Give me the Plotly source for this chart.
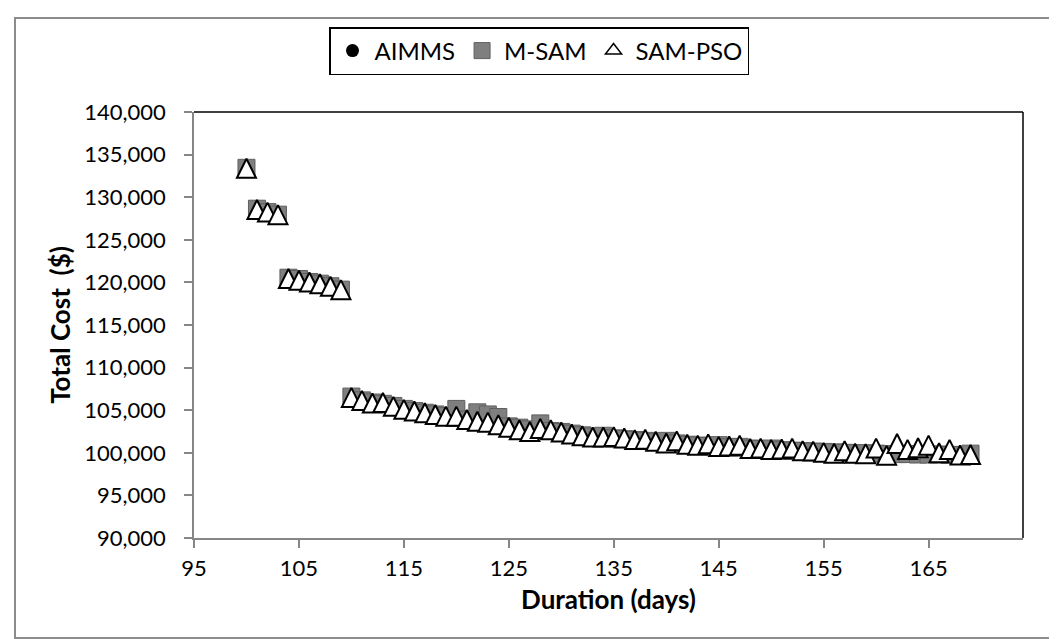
import plotly.graph_objects as go

days = list(range(100, 170))

aimms = [133400, 128500, 128200, 127900, 120400, 120200, 120000, 119800, 119500, 119100,
         106400, 106100, 105850, 105700, 105400, 105050, 104850, 104650, 104450, 104250,
         104050, 103850, 103650, 103450, 103250, 103050, 102900, 102700, 102600, 102500,
         102400, 102200, 102000, 101850, 101750, 101650, 101550, 101450, 101350, 101250,
         101150, 101050, 100900, 100800, 100750, 100650, 100600, 100500, 100450, 100400,
         100300, 100250, 100200, 100150, 100100, 100050, 100000, 99950, 99900, 99900,
         99850, 99800, 99800, 99800, 99750, 99750, 99750, 99700, 99700, 99700]

m_sam = [133450, 128650, 128250, 127950, 120550, 120400, 120050, 119850, 119550, 119150,
         106600, 106150, 105900, 105750, 105500, 105150, 104900, 104700, 104500, 104300,
         105150, 103900, 104750, 104500, 104200, 103100, 102950, 102750, 103450, 102550,
         102450, 102250, 102050, 101900, 102000, 101700, 101600, 101500, 101400, 101300,
         101400, 101100, 100950, 100850, 100800, 100900, 100650, 100700, 100500, 100450,
         100500, 100300, 100250, 100200, 100150, 100100, 100050, 100000, 99950, 99950,
         99900, 99850, 99850, 99850, 99800, 99800, 99800, 99750, 99750, 99900]

sam_pso = [133400, 128550, 128250, 127950, 120450, 120250, 120050, 119850, 119550, 119150,
           106500, 106150, 105850, 105900, 105450, 105100, 104900, 104700, 104500, 104300,
           104300, 103900, 103700, 103600, 103300, 103000, 102700, 102500, 102850, 102700,
           102450, 102200, 102000, 101850, 101850, 101900, 101750, 101550, 101600, 101350,
           101150, 101400, 101000, 100900, 101050, 100750, 100800, 100900, 100500, 100550,
           100400, 100450, 100550, 100250, 100200, 100050, 99950, 100250, 99950, 99900,
           100550, 99700, 101100, 100400, 100600, 100900, 100000, 100400, 99750, 99800]

x_ticks = [95, 105, 115, 125, 135, 145, 155, 165]
y_min, y_max = 90000, 140000
x_min, x_max = 95, 174

W, H = 1057, 639
L, R, T, B = 186, 42, 104, 109
plot_w = W - L - R
plot_h = H - T - B

FONT = "Lato, 'Open Sans', sans-serif"
TRI = 19  # arrow-up marker: apex at point, so shift its axis by half height
shift = (TRI / 2) / plot_h * (y_max - y_min)

fig = go.Figure()
fig.add_trace(go.Scatter(x=days, y=aimms, mode="markers", name="AIMMS",
                         marker=dict(symbol="circle", size=13, color="black")))
fig.add_trace(go.Scatter(x=days, y=m_sam, mode="markers", name="M-SAM",
                         marker=dict(symbol="square", size=17, color="#7f7f7f",
                                     line=dict(color="#5f5f5f", width=1))))
fig.add_trace(go.Scatter(x=days, y=sam_pso, mode="markers", name="SAM-PSO",
                         yaxis="y2", showlegend=False,
                         marker=dict(symbol="arrow-up", size=TRI, color="white",
                                     line=dict(color="black", width=2))))
fig.add_trace(go.Scatter(x=[None], y=[None], mode="markers", name="SAM-PSO",
                         marker=dict(symbol="triangle-up", size=14, color="white",
                                     line=dict(color="black", width=1.5))))

axis_grey = "#868686"
fig.update_layout(
    width=W, height=H,
    margin=dict(l=L, r=R, t=T, b=B),
    paper_bgcolor="white", plot_bgcolor="white",
    font=dict(family=FONT, size=22, color="black"),
    xaxis=dict(range=[x_min, x_max], tickmode="array", tickvals=x_ticks,
               ticktext=[str(t) for t in x_ticks],
               showgrid=False, zeroline=False, showline=True, linecolor=axis_grey,
               linewidth=1.5, ticks="outside", ticklen=8, tickcolor=axis_grey,
               tickwidth=1.5, tickfont=dict(size=22), ticklabelstandoff=2,
               title=dict(text="<b>Duration (days)</b>", font=dict(size=26), standoff=11)),
    yaxis=dict(range=[y_min, y_max], dtick=5000, tick0=y_min, tickformat=",d",
               showgrid=False, zeroline=False, showline=True, linecolor=axis_grey,
               linewidth=1.5, ticks="outside", ticklen=8, tickcolor=axis_grey,
               tickwidth=1.5, tickfont=dict(size=22), ticklabelstandoff=14,
               title=dict(text="<b>Total Cost  ($)</b>", font=dict(size=26), standoff=6)),
    yaxis2=dict(range=[y_min - shift, y_max - shift], overlaying="y", visible=False),
    legend=dict(orientation="h", x=(531 - L) / plot_w, xanchor="center",
                y=(H - B - 19) / plot_h, yanchor="top",
                bordercolor="black", borderwidth=1.5, bgcolor="white",
                font=dict(size=24), itemwidth=34),
    showlegend=True,
)

# plot-area border (top and right in black)
fig.add_shape(type="line", xref="paper", yref="paper", x0=0, x1=1, y0=1, y1=1,
              line=dict(color="black", width=1.5))
fig.add_shape(type="line", xref="paper", yref="paper", x0=1, x1=1, y0=0, y1=1,
              line=dict(color="black", width=1.5))
# outer chart border
fig.add_shape(type="rect", xref="paper", yref="paper",
              x0=-(L - 7) / plot_w, x1=1 + (1048 - (W - R)) / plot_w,
              y0=-((H - 9) - (H - B)) / plot_h, y1=1 + (T - 10) / plot_h,
              line=dict(color="#8c8c8c", width=2), layer="below")

fig.write_html("out.html")
